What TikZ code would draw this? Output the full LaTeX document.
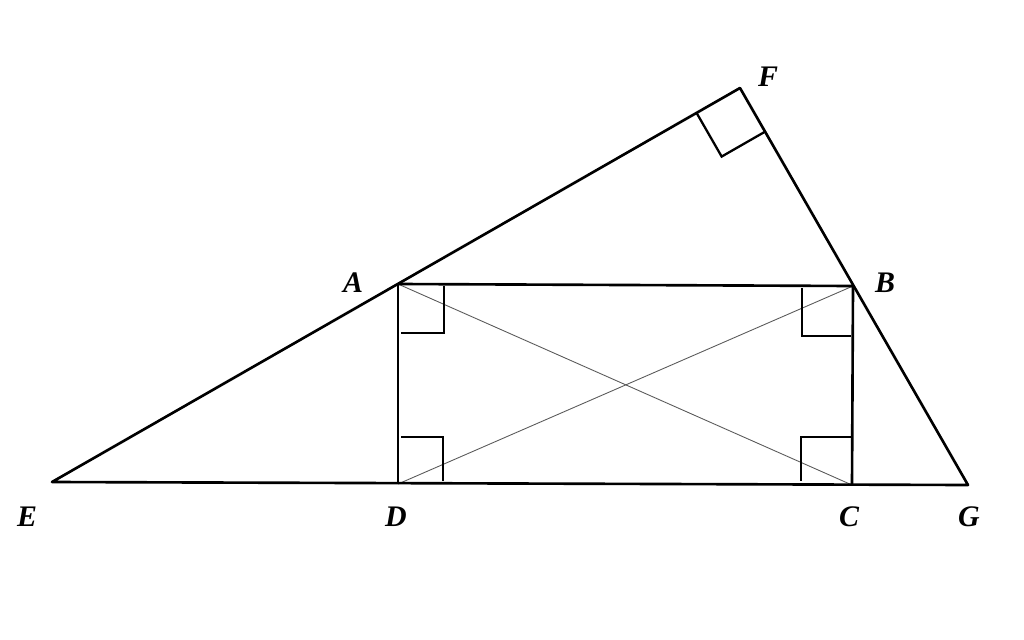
\documentclass[tikz,border=0pt]{standalone}
\usepackage{fontspec}
\setmainfont{Liberation Serif}
\usetikzlibrary{calc}
\tikzstyle{lbl} = [font=\fontsize{17}{20}\selectfont\bfseries\itshape, inner sep=0pt]
\tikzstyle{side} = [line width=1.5pt, line join=round, black]
\tikzstyle{diag} = [line width=0.5pt, black!65]
\tikzstyle{rmark} = [line width=1.3pt, black]

\begin{document}
\begin{tikzpicture}[x=0.02cm, y=-0.02cm]%
				\useasboundingbox (0,0) rectangle (1024,639);
				% vertices
				\coordinate (E) at (52,482);
				\coordinate (D) at (398,484);
				\coordinate (C) at (852,485);
				\coordinate (G) at (968,485);
				\coordinate (A) at (398,284);
				\coordinate (B) at (853,286);
				\coordinate (F) at (740,88);
				% labels
				\node [lbl] (lE) at (27,517) {E};
				\node [lbl] (lD) at (396,517) {D};
				\node [lbl] (lC) at (849,517) {C};
				\node [lbl] (lG) at (969,517) {G};
				\node [lbl] (lA) at (353,283) {A};
				\node [lbl] (lB) at (885,283) {B};
				\node [lbl] (lF) at (768,77) {F};
				% diagonals
				\draw [diag] (A) -- (C);
				\draw [diag] (D) -- (B);
				% triangle and rectangle
				\draw [side] (E) -- (F) -- (G) -- cycle;
				\draw [side] (A) -- (B) -- (C);
				\draw [side] (A) -- (D);
				% right angles
				\coordinate (fa) at ($(F)!0.127!(A)$);
				\coordinate (fg) at ($(F)!0.11!(G)$);
				\draw [rmark] (fa) -- ($(fa)+(fg)-(F)$) -- (fg);
				\draw [rmark] (444,286) -- (444,333) -- (401,333);
				\draw [rmark] (802,288) -- (802,336) -- (851,336);
				\draw [rmark] (401,437) -- (443,437) -- (443,481);
				\draw [rmark] (851,437) -- (801,437) -- (801,481);
	\end{tikzpicture}
\end{document}
